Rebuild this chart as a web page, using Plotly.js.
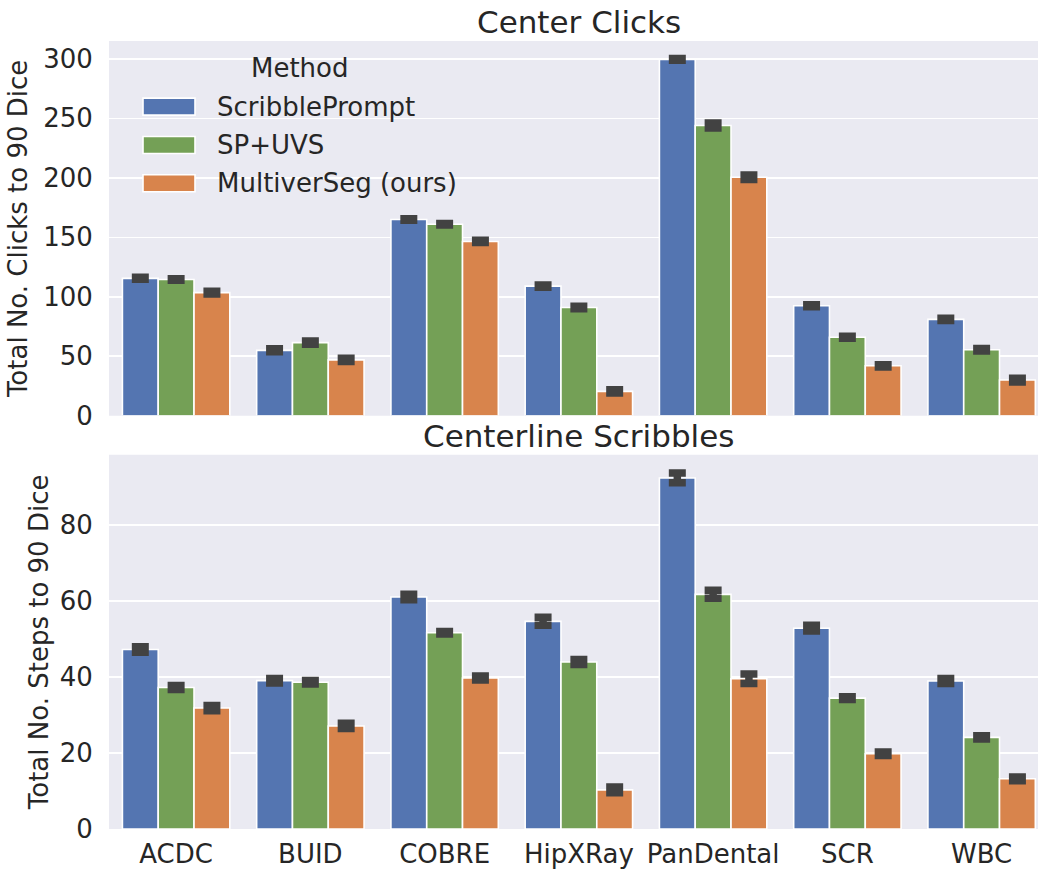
<!DOCTYPE html>
<html>
<head>
<meta charset="utf-8">
<script src="https://cdn.plot.ly/plotly-3.0.1.min.js"></script>
<style>
  html, body { margin: 0; padding: 0; background: #ffffff; }
  #chart { width: 1038px; height: 871px; }
</style>
</head>
<body>
<div id="chart"></div>
<script>
// ---- data ----
const categories = ['ACDC', 'BUID', 'COBRE', 'HipXRay', 'PanDental', 'SCR', 'WBC'];
const methods = ['ScribblePrompt', 'SP+UVS', 'MultiverSeg (ours)'];

// Center Clicks: total no. clicks to 90 Dice
const spClicks   = [115.5, 55, 165, 109, 299.5, 92.5, 81];
const uvsClicks  = [114.5, 61.5, 161, 91, 244, 66, 55.5];
const oursClicks = [103.5, 47, 146.5, 20.5, 200.5, 42, 30];
const spClicksErr   = [0.85, 1.25, 0.7, 0.95, 0.7, 0.85, 0.95];
const uvsClicksErr  = [0.7, 1.4, 0.7, 1.1, 2.1, 0.85, 1.1];
const oursClicksErr = [1.25, 1.4, 0.95, 1.4, 1.95, 0.95, 1.55];

// Centerline Scribbles: total no. steps to 90 Dice
const spSteps   = [47.2, 39, 61, 54.6, 92.3, 52.8, 38.9];
const uvsSteps  = [37.2, 38.6, 51.6, 43.9, 61.7, 34.4, 24.1];
const oursSteps = [31.8, 27.1, 39.7, 10.3, 39.5, 19.8, 13.2];
const spStepsErr   = [0.75, 0.6, 0.75, 1.05, 1.27, 0.75, 0.65];
const uvsStepsErr  = [0.5, 0.45, 0.35, 0.65, 1.05, 0.35, 0.45];
const oursStepsErr = [0.7, 0.7, 0.5, 0.75, 1.27, 0.45, 0.5];

const clickTicks = [0, 50, 100, 150, 200, 250, 300];
const stepTicks = [0, 20, 40, 60, 80];

const titles = ['Center Clicks', 'Centerline Scribbles'];
const yTitles = ['Total No. Clicks to 90 Dice', 'Total No. Steps to 90 Dice'];
const legendTitle = 'Method';

// ---- style ----
const colors = ['#5475B1', '#74A056', '#D8844C'];
const FONT = 'DejaVu Sans, Liberation Sans, sans-serif';
const TXT = '#262626';
const ERR = '#424242';
const FS = 26;

const W = 1038, H = 871;
const L = 109, R = 0, T = 41, B = 41.5;
const plotW = W - L - R, plotH = H - T - B;
const px2x = p => (p - L) / plotW;
const py2y = p => (H - B - p) / plotH;

const topSeries = [spClicks, uvsClicks, oursClicks];
const topErr = [spClicksErr, uvsClicksErr, oursClicksErr];
const botSeries = [spSteps, uvsSteps, oursSteps];
const botErr = [spStepsErr, uvsStepsErr, oursStepsErr];

const traces = [];
function addBars(series, errs, xa, ya) {
  series.forEach((vals, i) => {
    traces.push({
      type: 'bar',
      x: categories,
      y: vals,
      name: methods[i],
      xaxis: xa, yaxis: ya,
      showlegend: false,
      marker: { color: colors[i], line: { color: '#ffffff', width: 1.6 } },
      error_y: { type: 'data', array: errs[i], visible: true, color: ERR, thickness: 7.5, width: 8.5 },
      hoverinfo: 'x+y+name'
    });
  });
}
addBars(topSeries, topErr, 'x', 'y');
addBars(botSeries, botErr, 'x2', 'y2');

const topDomain = [py2y(416), 1];
const botDomain = [0, py2y(455)];

const axisCommon = {
  showline: false, zeroline: false,
  gridcolor: '#ffffff', gridwidth: 1.6,
  tickfont: { family: FONT, size: FS, color: TXT }
};

const annotations = [
  { text: titles[0], xref: 'paper', yref: 'paper', x: px2x(578.5), y: py2y(22), xanchor: 'center', yanchor: 'middle',
    showarrow: false, font: { family: FONT, size: 31, color: TXT } },
  { text: titles[1], xref: 'paper', yref: 'paper', x: px2x(578.5), y: py2y(436), xanchor: 'center', yanchor: 'middle',
    showarrow: false, font: { family: FONT, size: 31, color: TXT } },
  { text: legendTitle, xref: 'paper', yref: 'paper', x: px2x(300), y: py2y(68.5), xanchor: 'center', yanchor: 'middle',
    showarrow: false, font: { family: FONT, size: FS, color: TXT } }
];
const shapes = [];
const rowY = [106.7, 145, 183.3];
methods.forEach((m, i) => {
  shapes.push({ type: 'rect', xref: 'paper', yref: 'paper',
    x0: px2x(143), x1: px2x(195), y0: py2y(rowY[i] + 8.5), y1: py2y(rowY[i] - 8.5),
    fillcolor: colors[i], line: { color: '#ffffff', width: 1.6 } });
  annotations.push({ text: m, xref: 'paper', yref: 'paper', x: px2x(215), y: py2y(rowY[i]),
    xanchor: 'left', yanchor: 'middle', showarrow: false,
    font: { family: FONT, size: FS, color: TXT } });
});

const layout = {
  width: W, height: H,
  margin: { l: L, r: R, t: T, b: B, pad: 0 },
  paper_bgcolor: '#ffffff',
  plot_bgcolor: '#EAEAF2',
  barmode: 'group',
  bargap: 0.2,
  bargroupgap: 0,
  showlegend: false,
  font: { family: FONT, color: TXT },
  xaxis: Object.assign({}, axisCommon, {
    domain: [0, 1], anchor: 'y', type: 'category', categoryarray: categories,
    range: [-0.5, 6.42], showgrid: false, showticklabels: false, ticks: ''
  }),
  yaxis: Object.assign({}, axisCommon, {
    domain: topDomain, anchor: 'x', range: [0, 315], tickvals: clickTicks,
    ticks: 'outside', ticklen: 10, tickcolor: 'rgba(0,0,0,0)',
    title: { text: yTitles[0], font: { family: FONT, size: FS, color: TXT }, standoff: 8 }
  }),
  xaxis2: Object.assign({}, axisCommon, {
    domain: [0, 1], anchor: 'y2', type: 'category', categoryarray: categories,
    range: [-0.5, 6.42], showgrid: false, ticks: 'outside', ticklen: 2, tickcolor: 'rgba(0,0,0,0)'
  }),
  yaxis2: Object.assign({}, axisCommon, {
    domain: botDomain, anchor: 'x2', range: [0, 98.4], tickvals: stepTicks,
    ticks: 'outside', ticklen: 10, tickcolor: 'rgba(0,0,0,0)',
    title: { text: yTitles[1], font: { family: FONT, size: FS, color: TXT }, standoff: 3 }
  }),
  annotations: annotations,
  shapes: shapes
};

Plotly.newPlot('chart', traces, layout, { staticPlot: true, displayModeBar: false });
</script>
</body>
</html>
